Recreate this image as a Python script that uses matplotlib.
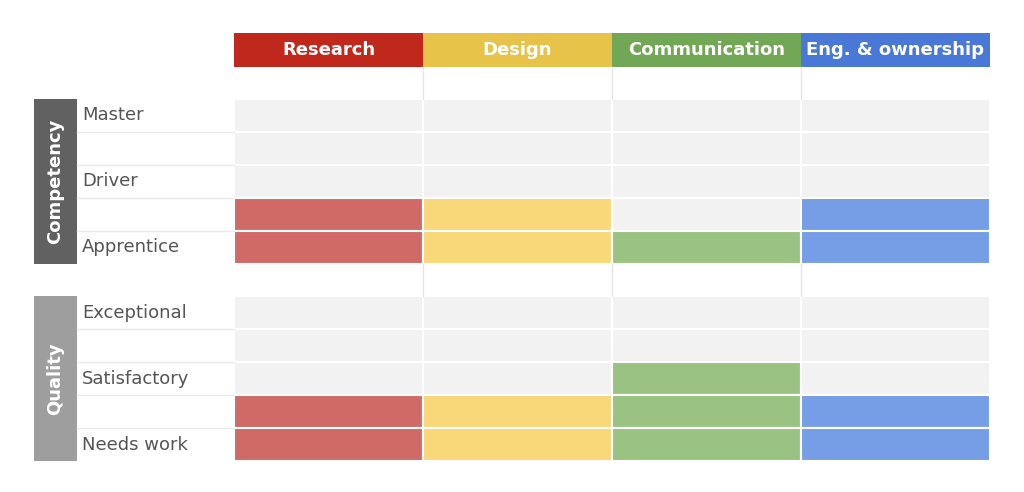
import matplotlib.pyplot as plt
from matplotlib.patches import Rectangle

skills = ['Research', 'Design', 'Communication', 'Eng. & ownership']
header_colors = ['#C0281C', '#E8C34A', '#72A855', '#4A78D6']
fill_colors = ['#D06A66', '#F9D87A', '#9AC383', '#769EE6']
empty_color = '#F2F2F2'

competency_levels = ['Master', '', 'Driver', '', 'Apprentice']
quality_levels = ['Exceptional', '', 'Satisfactory', '', 'Needs work']
# number of filled cells from the bottom, per skill
competency_scores = [2, 2, 1, 2]
quality_scores = [2, 2, 3, 2]

fig = plt.figure(figsize=(10.24, 4.92), dpi=100)
ax = fig.add_axes([0, 0, 1, 1])
ax.set_xlim(0, 1024)
ax.set_ylim(492, 0)
ax.axis('off')

x0, cw = 234, 189
rh = 33

# header
for i, (name, c) in enumerate(zip(skills, header_colors)):
    ax.add_patch(Rectangle((x0 + i * cw, 33), cw, 34, color=c, lw=0))
    ax.text(x0 + i * cw + cw / 2, 50, name, color='white', fontsize=13,
            fontweight='bold', ha='center', va='center')

# thin column separators in the blank rows
for yb in (67, 264):
    for i in range(1, 4):
        ax.plot([x0 + i * cw] * 2, [yb, yb + 32], color='#E6E6E6', lw=1)


def block(top, levels, scores, title, title_color):
    n = len(levels)
    ax.add_patch(Rectangle((34, top), 43, n * rh, color=title_color, lw=0))
    ax.text(55.5, top + n * rh / 2, title, rotation=90, color='white',
            fontsize=13, fontweight='bold', ha='center', va='center')
    for r, lab in enumerate(levels):
        y = top + r * rh
        ax.text(82, y + rh / 2, lab, fontsize=13, color='#555555', va='center')
        if r > 0:
            ax.plot([77, 234], [y, y], color='#EAEAEA', lw=1)
        for i in range(len(scores)):
            filled = (n - r) <= scores[i]
            ax.add_patch(Rectangle((x0 + i * cw, y), cw, rh,
                                   facecolor=fill_colors[i] if filled else empty_color,
                                   edgecolor='white', lw=1.5))


block(99, competency_levels, competency_scores, 'Competency', '#616161')
block(296, quality_levels, quality_scores, 'Quality', '#9E9E9E')

fig.savefig('out.png', dpi=100)
